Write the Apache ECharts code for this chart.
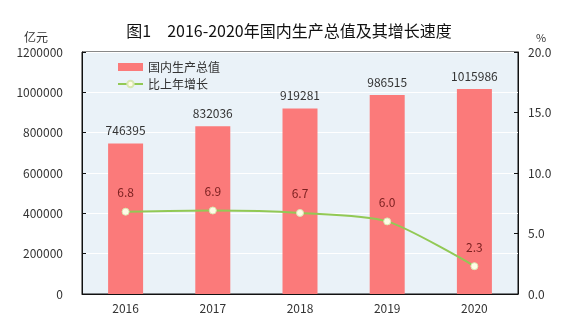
<!DOCTYPE html>
<html><head><meta charset="utf-8">
<script src="https://cdn.jsdelivr.net/npm/echarts@6/dist/echarts.min.js"></script>
<style>html,body{margin:0;padding:0;background:#fff}#c{width:578px;height:322px}</style>
</head><body><div id="c"></div>
<script>
const years = ['2016','2017','2018','2019','2020'];
const gdp = [746395, 832036, 919281, 986515, 1015986];
const growth = [6.8, 6.9, 6.7, 6.0, 2.3];
const seriesNames = ['国内生产总值', '比上年增长'];
const titleText = '图1　2016-2020年国内生产总值及其增长速度';
const leftUnit = '亿元';
const rightUnit = '%';

const font = '"Noto Sans CJK SC", "DejaVu Sans", sans-serif';
const chart = echarts.init(document.getElementById('c'), null, {renderer: 'canvas'});
chart.setOption({
  backgroundColor: '#fff',
  animation: false,
  title: {
    text: titleText, left: 'center', top: 18,
    textStyle: {fontSize: 16, fontWeight: 'normal', color: '#111', fontFamily: font}
  },
  legend: {
    orient: 'vertical', left: 112, top: 56, itemGap: 5,
    itemWidth: 25, itemHeight: 8,
    textStyle: {fontSize: 12, color: '#333', fontFamily: font},
    data: [
      {name: seriesNames[0], icon: 'rect'},
      {name: seriesNames[1]}
    ]
  },
  grid: {
    left: 82, right: 60, top: 52, bottom: 28,
    show: true, backgroundColor: '#eaf2f8', borderColor: '#111', borderWidth: 1
  },
  xAxis: {
    type: 'category', data: years, boundaryGap: true,
    axisLine: {lineStyle: {color: '#111', width: 1}},
    axisTick: {inside: true, length: 4, lineStyle: {color: '#111'}},
    axisLabel: {fontSize: 12, color: '#333', fontFamily: font, margin: 8}
  },
  yAxis: [
    {
      type: 'value', min: 0, max: 1200000, interval: 200000,
      name: leftUnit, nameLocation: 'end', nameGap: 9,
      nameTextStyle: {fontSize: 12, color: '#333', fontFamily: font, align: 'right', padding: [0, 34, 0, 0]},
      axisLine: {show: true, lineStyle: {color: '#111'}},
      axisTick: {show: true, inside: true, length: 4, lineStyle: {color: '#111'}},
      axisLabel: {fontSize: 12, color: '#333', fontFamily: font, margin: 19,
        formatter: v => String(v)},
      splitLine: {show: true, lineStyle: {color: '#ffffff', width: 1}}
    },
    {
      type: 'value', min: 0, max: 20, interval: 5, position: 'right',
      name: rightUnit, nameLocation: 'end', nameGap: 9,
      nameTextStyle: {fontSize: 11, color: '#333', fontFamily: font, align: 'left', padding: [0, 0, 0, 18]},
      axisLine: {show: true, lineStyle: {color: '#111'}},
      axisTick: {show: true, inside: true, length: 4, lineStyle: {color: '#111'}},
      axisLabel: {fontSize: 12, color: '#333', fontFamily: font, margin: 10,
        formatter: v => v.toFixed(1)},
      splitLine: {show: false}
    }
  ],
  series: [
    {
      name: seriesNames[0], type: 'bar', data: gdp, barWidth: 35,
      itemStyle: {color: '#fb7a7a'},
      label: {show: true, position: 'top', distance: 7, fontSize: 12, color: '#333', fontFamily: font}
    },
    {
      name: seriesNames[1], type: 'line', yAxisIndex: 1, data: growth,
      smooth: 0.25,
      lineStyle: {color: '#92c955', width: 2},
      itemStyle: {color: '#fffbe6', borderColor: '#d8e8b0', borderWidth: 1},
      symbol: 'circle', symbolSize: 7,
      label: {show: true, position: 'top', distance: 9, fontSize: 12, color: '#7a1f1f', fontFamily: font,
        formatter: p => p.value.toFixed(1)}
    }
  ]
});
</script></body></html>
